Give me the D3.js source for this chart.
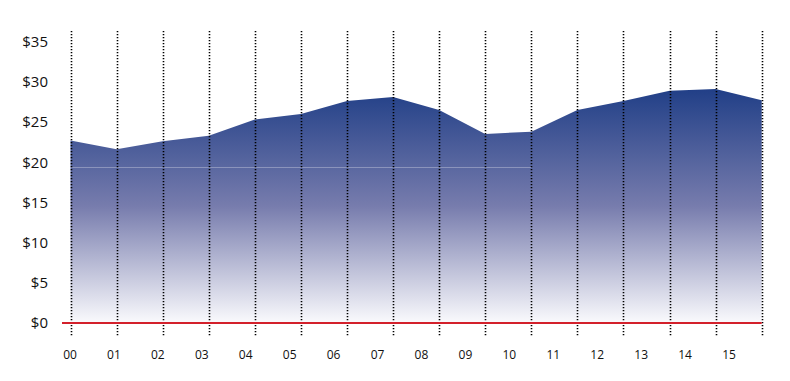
<!DOCTYPE html>
<html><head><meta charset="utf-8">
<script src="https://cdn.jsdelivr.net/npm/d3@7"></script>
<style>body{margin:0;background:#fff}svg{display:block}</style>
</head><body><svg id="c" width="790" height="381"></svg>
<script>
const categories = ["00","01","02","03","04","05","06","07","08","09","10","11","12","13","14","15"];
const values = [22.7,21.6,22.6,23.3,25.3,26.0,27.6,28.1,26.5,23.5,23.8,26.5,27.6,28.9,29.1,27.7];
const yTicks = [0,5,10,15,20,25,30,35];
const faintLine = {value:19.4, from:0, to:10};

const svg = d3.select("#c");
const x = d3.scalePoint().domain(categories).range([70.5, 761.7]);
const xl = d3.scalePoint().domain(categories).range([70, 729]);
const y = d3.scaleLinear().domain([0,35]).range([323, 41.6]);

const defs = svg.append("defs");
const g = defs.append("linearGradient").attr("id","grad")
  .attr("gradientUnits","userSpaceOnUse").attr("x1",0).attr("x2",0)
  .attr("y1", y(d3.max(values))).attr("y2", y(0));
g.append("stop").attr("offset","0").attr("stop-color","#213f87");
g.append("stop").attr("offset","0.5").attr("stop-color","#777cad");
g.append("stop").attr("offset","1").attr("stop-color","#fafafd");

const area = d3.area().x((d,i)=>x(categories[i])).y0(y(0)).y1(d=>y(d));
svg.append("path").datum(values).attr("d", area).attr("fill","url(#grad)");

svg.append("line")
  .attr("x1", x(categories[faintLine.from])).attr("x2", x(categories[faintLine.to]))
  .attr("y1", y(faintLine.value)+0.5).attr("y2", y(faintLine.value)+0.5)
  .attr("stroke","rgba(255,255,255,0.3)").attr("stroke-width",1);

// dotted vertical lines
svg.append("g").selectAll("line").data(categories).join("line")
  .attr("x1", d=>Math.round(x(d))+0.5).attr("x2", d=>Math.round(x(d))+0.5)
  .attr("y1", 31).attr("y2", 336)
  .attr("stroke","#000").attr("stroke-width",1.6).attr("stroke-dasharray","1.2,1.8");

// red baseline
svg.append("line").attr("x1",62).attr("x2",x(categories[categories.length-1]))
  .attr("y1",y(0)).attr("y2",y(0)).attr("stroke","#d3202b").attr("stroke-width",2);

// y labels
svg.append("g").selectAll("text").data(yTicks).join("text")
  .attr("x",48).attr("y",d=>y(d)).attr("dy","0.36em").attr("text-anchor","end")
  .attr("font-family","'Open Sans', 'Noto Sans', sans-serif").attr("font-size",15)
  .attr("fill","#111").text(d=>"$"+d);

// x labels
svg.append("g").selectAll("text").data(categories).join("text")
  .attr("x",d=>xl(d)).attr("y",355).attr("dy","0.36em").attr("text-anchor","middle")
  .attr("font-family","'Open Sans', 'Noto Sans', sans-serif").attr("font-size",12)
  .attr("fill","#111").text(d=>d);
</script></body></html>
